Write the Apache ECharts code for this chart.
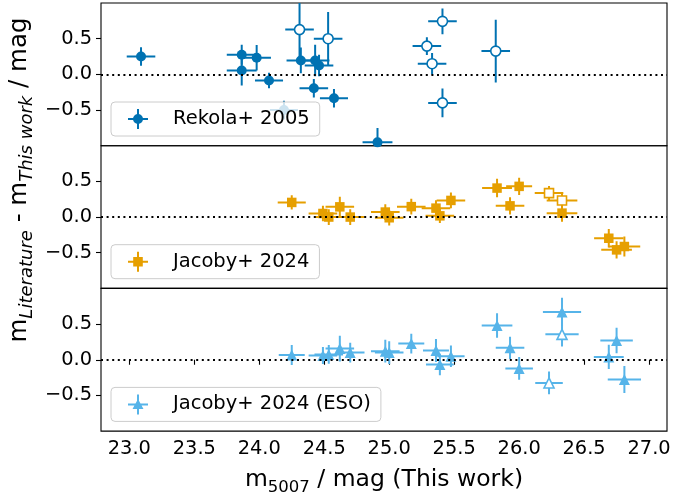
<!DOCTYPE html>
<html>
<head>
<meta charset="utf-8">
<script src="https://cdn.jsdelivr.net/npm/echarts@6/dist/echarts.min.js"></script>
<style>
html,body{margin:0;padding:0;background:#fff;}
#chart{width:697px;height:492px;}
</style>
</head>
<body>
<div id="chart"></div>
<script>
// ---------- data ----------
const xTicks = [23.0, 23.5, 24.0, 24.5, 25.0, 25.5, 26.0, 26.5, 27.0];
const yTicks = [-0.5, 0.0, 0.5];

const rekName = 'Rekola+ 2005';
const rekX    = [23.09, 23.865, 23.865, 23.98, 24.075, 24.19, 24.32, 24.43, 24.46, 24.42, 24.575, 24.91, 24.31, 24.53, 25.41, 25.29, 25.33, 25.41, 25.82];
const rekY    = [0.25, 0.275, 0.055, 0.233, -0.086, -0.50, 0.195, 0.195, 0.125, -0.194, -0.335, -0.953, 0.627, 0.50, 0.743, 0.396, 0.149, -0.40, 0.326];
const rekXerr = [0.11, 0.115, 0.115, 0.11, 0.108, 0.108, 0.11, 0.11, 0.11, 0.11, 0.108, 0.115, 0.11, 0.11, 0.11, 0.11, 0.11, 0.11, 0.11];
const rekYerr = [0.13, 0.14, 0.21, 0.18, 0.11, 0.13, 0.18, 0.22, 0.15, 0.13, 0.13, 0.2, 0.45, 0.375, 0.18, 0.125, 0.15, 0.2, 0.44];
const rekOpen = [0, 0, 0, 0, 0, 0, 0, 0, 0, 0, 0, 0, 1, 1, 1, 1, 1, 1, 1];

const jacName = 'Jacoby+ 2024';
const jacX    = [24.25, 24.49, 24.535, 24.62, 24.70, 24.97, 25.0, 25.17, 25.36, 25.39, 25.475, 25.83, 25.93, 26.0, 26.33, 26.69, 26.75, 26.81, 26.23, 26.33];
const jacY    = [0.205, 0.05, 0.0, 0.143, 0.0, 0.07, -0.01, 0.146, 0.125, 0.017, 0.233, 0.406, 0.157, 0.43, 0.055, -0.297, -0.46, -0.413, 0.336, 0.233];
const jacXerr = [0.108, 0.11, 0.11, 0.11, 0.11, 0.11, 0.11, 0.11, 0.11, 0.11, 0.11, 0.115, 0.11, 0.10, 0.118, 0.113, 0.118, 0.122, 0.11, 0.118];
const jacYerr = [0.1, 0.11, 0.11, 0.14, 0.11, 0.11, 0.11, 0.11, 0.11, 0.1, 0.11, 0.13, 0.12, 0.12, 0.12, 0.13, 0.12, 0.14, 0.1, 0.11];
const jacOpen = [0, 0, 0, 0, 0, 0, 0, 0, 0, 0, 0, 0, 0, 0, 0, 0, 0, 0, 1, 1];

const esoName = 'Jacoby+ 2024 (ESO)';
const esoX    = [24.25, 24.49, 24.535, 24.62, 24.70, 24.97, 25.0, 25.17, 25.36, 25.39, 25.475, 25.83, 25.93, 26.0, 26.33, 26.69, 26.75, 26.81, 26.23, 26.33];
const esoY    = [0.065, 0.06, 0.075, 0.156, 0.10, 0.12, 0.10, 0.226, 0.13, -0.066, 0.05, 0.48, 0.167, -0.122, 0.67, 0.04, 0.27, -0.277, -0.325, 0.356];
const esoXerr = [0.10, 0.11, 0.11, 0.11, 0.11, 0.11, 0.11, 0.10, 0.10, 0.107, 0.105, 0.118, 0.11, 0.106, 0.147, 0.115, 0.125, 0.128, 0.106, 0.128];
const esoYerr = [0.14, 0.12, 0.13, 0.18, 0.14, 0.16, 0.16, 0.14, 0.16, 0.15, 0.15, 0.17, 0.155, 0.16, 0.2, 0.17, 0.18, 0.19, 0.16, 0.17];
const esoOpen = [0, 0, 0, 0, 0, 0, 0, 0, 0, 0, 0, 0, 0, 0, 0, 0, 0, 0, 1, 1];

// ---------- styling ----------
const FONT = 'DejaVu Sans';
const TICK_FS = 19.4, LABEL_FS = 23.5, SUB_FS = 16.5;
const YLAB_FS = 24.5, YSUB_FS = 18;
const XMIN = 22.782, XMAX = 27.138, YMIN = -1, YMAX = 1;
const panels = [
  {name: rekName, x: rekX, y: rekY, xe: rekXerr, ye: rekYerr, open: rekOpen, color: '#0072B2', symbol: 'circle', size: 10, openSize: 10,
   icon: 'path://M0,9L20,9L20,11L0,11Z M9,0L11,0L11,20L9,20Z M15,10A5,5 0 1,1 5,10A5,5 0 1,1 15,10Z'},
  {name: jacName, x: jacX, y: jacY, xe: jacXerr, ye: jacYerr, open: jacOpen, color: '#E69F00', symbol: 'rect', size: 9.5, openSize: 9,
   icon: 'path://M0,9L20,9L20,11L0,11Z M9,0L11,0L11,20L9,20Z M5.2,5.2L14.8,5.2L14.8,14.8L5.2,14.8Z'},
  {name: esoName, x: esoX, y: esoY, xe: esoXerr, ye: esoYerr, open: esoOpen, color: '#56B4E9', symbol: 'triangle', size: 11, openSize: 10,
   icon: 'path://M0,9L20,9L20,11L0,11Z M9,0L11,0L11,20L9,20Z M10,4.5L15.5,14.5L4.5,14.5Z'}
];

const gridTop = [3, 145.7, 288.4];
const gridH = 142.7;
const grids = [], xAxes = [], yAxes = [], series = [], legends = [];

panels.forEach((p, i) => {
  grids.push({left: 101, width: 566, top: gridTop[i], height: gridH, show: true,
    containLabel: false, outerBoundsMode: 'none',
    borderColor: '#000', borderWidth: 1.1, backgroundColor: 'transparent'});
  const last = i === panels.length - 1;
  xAxes.push({type: 'value', gridIndex: i, min: XMIN, max: XMAX,
    splitLine: {show: false}, axisLine: {show: false},
    axisTick: {show: last, customValues: xTicks, length: 5, lineStyle: {color: '#000', width: 1.1}},
    axisLabel: {show: last, customValues: xTicks, margin: 8, fontFamily: FONT, fontSize: TICK_FS, color: '#000',
      formatter: v => v.toFixed(1)},
    name: last ? '{a|m}{s|5007}{a| / mag (This work)}' : '',
    nameLocation: 'middle', nameGap: 37,
    nameTextStyle: {fontFamily: FONT, color: '#000', rich: {
      a: {fontFamily: FONT, fontSize: LABEL_FS, lineHeight: 28, verticalAlign: 'top', color: '#000'},
      s: {fontFamily: FONT, fontSize: SUB_FS, lineHeight: 10, verticalAlign: 'bottom', color: '#000'}
    }}
  });
  yAxes.push({type: 'value', gridIndex: i, min: YMIN, max: YMAX,
    splitLine: {show: false}, axisLine: {show: false},
    axisTick: {show: true, customValues: yTicks, length: 5, lineStyle: {color: '#000', width: 1.1}},
    axisLabel: {show: true, customValues: yTicks, margin: 9, fontFamily: FONT, fontSize: TICK_FS, color: '#000',
      formatter: v => (v < 0 ? '\u2212' : '') + Math.abs(v).toFixed(1)}
  });

  const errData = p.x.map((x, k) => [x, p.y[k], p.xe[k], p.ye[k]]);
  const filled = [], hollow = [];
  p.x.forEach((x, k) => { (p.open[k] ? hollow : filled).push([x, p.y[k]]); });
  const col = p.color;
  const clampY = v => Math.max(YMIN, Math.min(YMAX, v));
  series.push({
    type: 'custom', name: p.name + ' err', xAxisIndex: i, yAxisIndex: i, clip: true, z: 2,
    data: errData, silent: true, animation: false,
    renderItem: (params, api) => {
      const x = api.value(0), y = api.value(1), ex = api.value(2), ey = api.value(3);
      const l = api.coord([x - ex, y]), r = api.coord([x + ex, y]);
      const t = api.coord([x, clampY(y + ey)]), b = api.coord([x, clampY(y - ey)]);
      const st = {stroke: col, lineWidth: 2, fill: null};
      return {type: 'group', children: [
        {type: 'line', shape: {x1: l[0], y1: l[1], x2: r[0], y2: r[1]}, style: st},
        {type: 'line', shape: {x1: t[0], y1: t[1], x2: b[0], y2: b[1]}, style: st}
      ]};
    },
    markLine: {silent: true, symbol: ['none', 'none'], label: {show: false}, animation: false,
      lineStyle: {color: '#000', type: [2, 3.6], width: 2}, emphasis: {disabled: true},
      data: [{yAxis: 0}]}
  });
  series.push({
    type: 'scatter', name: p.name, xAxisIndex: i, yAxisIndex: i, z: 3, animation: false,
    symbol: p.symbol, symbolSize: p.size, data: filled,
    itemStyle: {color: col, opacity: 1}, emphasis: {disabled: true}
  });
  series.push({
    type: 'scatter', name: p.name + ' open', xAxisIndex: i, yAxisIndex: i, z: 3, animation: false,
    symbol: p.symbol, symbolSize: p.openSize, data: hollow,
    itemStyle: {color: '#fff', borderColor: col, borderWidth: 1.6, opacity: 1}, emphasis: {disabled: true}
  });
  legends.push({
    data: [{name: p.name, icon: p.icon}], left: 111, top: gridTop[i] + 99,
    orient: 'vertical', selectedMode: false, itemWidth: 20, itemHeight: 20,
    padding: [7, 10, 7, 17], backgroundColor: 'rgba(255,255,255,0.8)',
    borderColor: '#cccccc', borderWidth: 1, borderRadius: 4, z: 10,
    textStyle: {fontFamily: FONT, fontSize: 19.5, color: '#000', lineHeight: 20, padding: [0, 0, 0, 20]}
  });
});

const chart = echarts.init(document.getElementById('chart'), null, {renderer: 'canvas'});
chart.setOption({
  animation: false,
  backgroundColor: '#fff',
  grid: grids, xAxis: xAxes, yAxis: yAxes, series: series, legend: legends,
  graphic: [{
    type: 'text', x: 22, y: 180, rotation: Math.PI / 2, silent: true,
    style: {
      text: '{a|m}{s|Literature}{a| - m}{s|This work}{a| / mag}',
      align: 'center', verticalAlign: 'middle', fill: '#000',
      font: YLAB_FS + 'px "DejaVu Sans"',
      rich: {
        a: {fontFamily: FONT, fontSize: YLAB_FS, lineHeight: 29, verticalAlign: 'top', fill: '#000'},
        s: {fontFamily: FONT, fontSize: YSUB_FS, fontStyle: 'italic', lineHeight: 11, verticalAlign: 'bottom', fill: '#000'}
      }
    }
  }]
});
</script>
</body>
</html>
